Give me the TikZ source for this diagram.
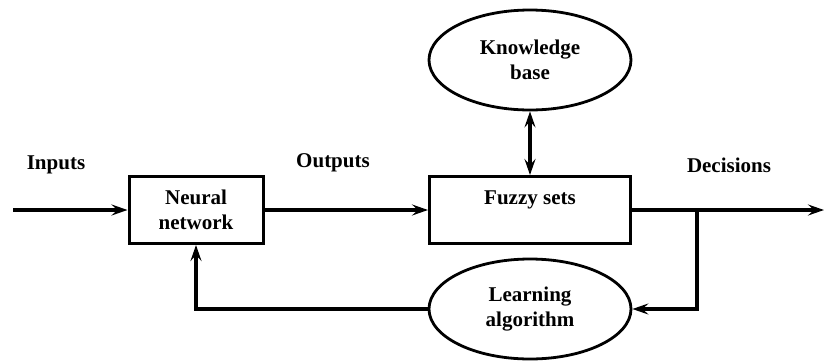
\documentclass[tikz,border=0pt]{standalone}
\usepackage{fontspec}
\setmainfont{Liberation Serif}
\usetikzlibrary{arrows.meta,positioning,shapes.geometric}

\begin{document}
\begin{tikzpicture}[
      x=0.5pt, y=0.5pt, >={Stealth[length=8pt,width=5.5pt,inset=3pt]},
      font=\bfseries\fontsize{10.5}{12.5}\selectfont, line width=1.7pt,
      block/.style={draw, align=center, minimum height=33.5pt, line width=1.5pt},
      oval/.style={draw, ellipse, align=center, minimum width=101pt,
                   minimum height=50pt, inner sep=0pt, line width=1.4pt},
      tag/.style={inner sep=0pt},
    ]
    \useasboundingbox (0,0) rectangle (826,361);

    % main chain
    \node[block, minimum width=67pt] (net) at (196,151) {Neural\\network};
    \node[block, minimum width=100.5pt] (fuzzy) at (530,151) {Fuzzy sets\\[-4pt]\strut};
    \node[oval] (kb) at (530,301) {Knowledge\\base};
    \node[oval] (learn) at (530,52) {Learning\\algorithm};

    \coordinate (in) at (13,151);
    \coordinate (out) at (824,151);
    \coordinate (split) at (697,151);

    \node[tag] (inputs) at (56,196) {Inputs};
    \node[tag] (outputs) at (333,198) {Outputs};
    \node[tag] (decisions) at (729,196) {Decisions};

    \draw[->] (in) -- (net);
    \draw[->] (net) -- (fuzzy);
    \draw[->] (fuzzy) -- (out);
    \draw[<->] (kb) -- (fuzzy);

    % feedback through the learning algorithm
    \draw[->] (split) |- (learn.east);
    \draw[->] (learn.west) -| (net.south);
  \end{tikzpicture}
\end{document}
